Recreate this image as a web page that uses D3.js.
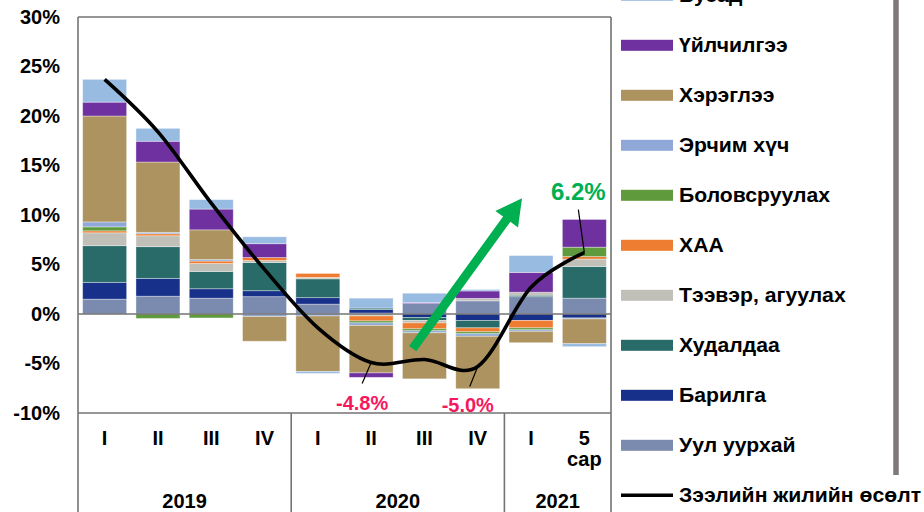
<!DOCTYPE html>
<html>
<head>
<meta charset="utf-8">
<script src="https://cdn.jsdelivr.net/npm/d3@7"></script>
<style>
html,body{margin:0;padding:0;background:#fff;}
svg{display:block;}
text{font-family:"Liberation Sans",Arial,sans-serif;font-weight:bold;}
</style>
</head>
<body>
<svg id="chart" width="924" height="512"></svg>
<script>
// ---------- data ----------
const categories = ["I","II","III","IV","I","II","III","IV","I","5 сар"];
const years = ["2019","2020","2021"];
const yearCounts = [4,4,2];
const yTicks = [-10,-5,0,5,10,15,20,25,30];

// series in stacking order (bottom -> top)
const seriesNames = ["Уул уурхай","Барилга","Худалдаа","Тээвэр, агуулах","ХАА","Боловсруулах","Эрчим хүч","Хэрэглээ","Үйлчилгээ","Бусад"];
const mining       = [1.5, 1.8, 1.6, 1.75, 1.0, 0.1, 1.05, 1.33, 1.75, 1.6];
const construction = [1.7, 1.8, 0.95, 0.6, 0.65, 0.35, -0.35, -0.65, -0.65, -0.4];
const trade        = [3.7, 3.2, 1.75, 2.85, 1.9, 0.15, -0.3, -0.75, 0.15, 3.2];
const transport    = [1.3, 1.1, 0.8, 0.2, 0.15, -0.2, -0.25, 0.25, 0.3, 0.75];
const agriculture  = [0.2, 0.2, 0.25, 0.3, 0.4, -0.5, -0.6, -0.4, -0.75, 0.25];
const manufacturing= [0.4, -0.45, -0.4, 0.0, 0.0, -0.2, -0.2, -0.2, -0.2, 0.95];
const energy       = [0.5, 0.15, 0.15, -0.25, -0.2, -0.25, -0.2, -0.25, -0.15, -0.1];
const consumption  = [10.7, 7.1, 3.0, -2.5, -5.6, -4.8, -4.65, -5.3, -1.15, -2.5];
const services     = [1.4, 2.1, 2.1, 1.4, 0.0, -0.45, 0.1, 0.75, 2.0, 2.8];
const other        = [2.3, 1.3, 0.95, 0.7, -0.2, 1.0, 0.95, 0.15, 1.7, -0.3];
const seriesValues = [mining,construction,trade,transport,agriculture,manufacturing,energy,consumption,services,other];
const seriesColors = ["#7B8BAF","#17308A","#286B69","#C0C0B8","#EE7D31","#5F9A3C","#8FA8D8","#AD935F","#7031A0","#98BBE2"];

const lineName = "Зээлийн жилийн өсөлт";
const growth = [23.7, 18.4, 11.2, 4.5, -1.4, -4.9, -4.6, -5.3, 2.7, 6.2];

// annotations: index of point, label text, colour
const annotations = [
  {i:5, text:"-4.8%", color:"#F5185F", dx:-9, dy:40, lx:-9, ly:21, size:20},
  {i:7, text:"-5.0%", color:"#F5185F", dx:-10, dy:39, lx:-8, ly:20, size:20},
  {i:9, text:"6.2%", color:"#00B050", dx:-6, dy:-61, lx:-6, ly:-43, size:24}
];
// trend arrow in data units (band index, percent)
const arrowFrom = [6.28, -3.5];
const arrowTo = [8.33, 11.7];

// ---------- drawing ----------
const svg = d3.select("#chart");
const L = 78, R = 611, T = 17, B = 413;
const axisColor = "#737373";

const x = d3.scaleBand().domain(d3.range(categories.length)).range([L,R]).paddingInner(0.175).paddingOuter(0.0875);
const xc = i => x(i) + x.bandwidth()/2;
const xCont = v => L + x.step()*v;
const y = d3.scaleLinear().domain([-10,30]).range([B,T]);

// title (cropped at the top of the picture)
svg.append("text").attr("x",250).attr("y",-4).attr("text-anchor","middle")
  .style("font-size","19px").text("салбаруудын оруулсан хувь нэмэр (хувь нэгжээр)");

// stacked bars
const table = categories.map((c,i)=>{const o={i}; seriesNames.forEach((s,k)=>o[s]=seriesValues[k][i]); return o;});
const stack = d3.stack().keys(seriesNames).offset(d3.stackOffsetDiverging)(table);
svg.append("g").selectAll("g").data(stack).join("g")
  .attr("fill",(d,k)=>seriesColors[k])
  .selectAll("rect").data(d=>d).join("rect")
  .attr("x",d=>x(d.data.i)).attr("width",x.bandwidth())
  .attr("y",d=>y(Math.max(d[0],d[1])))
  .attr("height",d=>Math.abs(y(d[0])-y(d[1])))
  .attr("stroke","rgba(255,255,255,0.45)").attr("stroke-width",0.8);

// plot frame and zero line
const frame = svg.append("g").attr("stroke",axisColor).attr("stroke-width",1.6).attr("fill","none");
frame.append("line").attr("x1",L).attr("x2",R).attr("y1",T).attr("y2",T);
frame.append("line").attr("x1",L).attr("x2",L).attr("y1",T).attr("y2",512);
frame.append("line").attr("x1",R).attr("x2",R).attr("y1",T).attr("y2",512);
frame.append("line").attr("x1",L).attr("x2",R).attr("y1",B).attr("y2",B);
frame.append("line").attr("x1",L).attr("x2",R).attr("y1",y(0)).attr("y2",y(0));

// group separators
let acc = 0;
yearCounts.forEach((n,g)=>{
  const start = acc; acc += n;
  if (acc < categories.length) {
    frame.append("line").attr("x1",xCont(acc)).attr("x2",xCont(acc)).attr("y1",B).attr("y2",512);
  }
  svg.append("text").attr("x",(xCont(start)+xCont(acc))/2).attr("y",501).attr("dy","0.35em")
    .attr("text-anchor","middle").style("font-size","20px").text(years[g]);
});

// y axis labels
const yAxis = d3.axisLeft(y).tickValues(yTicks).tickFormat(d=>d+"%").tickSize(0).tickPadding(18);
const yg = svg.append("g").attr("transform",`translate(${L},0)`).call(yAxis);
yg.select(".domain").remove();
yg.selectAll("text").style("font-size","20px").style("font-family","Liberation Sans, Arial, sans-serif").style("font-weight","bold").attr("fill","#000");

// category labels
const cl = svg.append("g").selectAll("text").data(categories).join("text")
  .attr("x",(d,i)=>xc(i)).attr("y",438).attr("dy","0.35em").attr("text-anchor","middle")
  .style("font-size","20px");
cl.each(function(d,i){
  const parts = d.split(" ");
  const t = d3.select(this);
  parts.forEach((p,k)=>t.append("tspan").attr("x",xc(i)).attr("dy",k===0?"0.35em":"1.05em").text(p));
});

// growth line
const line = d3.line().x((d,i)=>xc(i)).y(d=>y(d)).curve(d3.curveCardinal.tension(0));
svg.append("path").datum(growth).attr("d",line).attr("fill","none").attr("stroke","#000").attr("stroke-width",3.6);

// annotations
annotations.forEach(a=>{
  const px = xc(a.i), py = y(growth[a.i]);
  svg.append("line").attr("x1",px+a.lx).attr("y1",py+a.ly).attr("x2",px).attr("y2",py)
    .attr("stroke","#000").attr("stroke-width",1.2);
  svg.append("text").attr("x",px+a.dx).attr("y",py+a.dy).attr("dy","0.35em").attr("text-anchor","middle")
    .attr("fill",a.color).style("font-size",a.size+"px").text(a.text);
});

// green arrow
(function(){
  const x0 = xCont(arrowFrom[0]), y0 = y(arrowFrom[1]);
  const x1 = xCont(arrowTo[0]), y1 = y(arrowTo[1]);
  const dx = x1-x0, dy = y1-y0, len = Math.hypot(dx,dy);
  const ux = dx/len, uy = dy/len, nx = -uy, ny = ux;
  const sw = 4.5, hw = 14, hl = 26;
  const bx = x1 - ux*hl, by = y1 - uy*hl;
  const pts = [
    [x0+nx*sw, y0+ny*sw],[bx+nx*sw, by+ny*sw],[bx+nx*hw, by+ny*hw],[x1,y1],
    [bx-nx*hw, by-ny*hw],[bx-nx*sw, by-ny*sw],[x0-nx*sw, y0-ny*sw]];
  svg.append("polygon").attr("points",pts.map(p=>p.join(",")).join(" ")).attr("fill","#00B050");
})();

// legend
const legendItems = seriesNames.map((n,k)=>({name:n,color:seriesColors[k],type:"bar"})).reverse()
  .concat([{name:lineName,color:"#000",type:"line"}]);
const lg = svg.append("g");
legendItems.forEach((d,k)=>{
  const cy = -4.7 + k*50;
  if (d.type==="bar") {
    lg.append("rect").attr("x",621).attr("y",cy-5.5).attr("width",52).attr("height",11).attr("fill",d.color);
  } else {
    lg.append("line").attr("x1",621).attr("x2",673).attr("y1",cy).attr("y2",cy).attr("stroke","#000").attr("stroke-width",3.6);
  }
  lg.append("text").attr("transform",`translate(679,${cy}) scale(1.06,1)`).attr("dy","0.35em")
    .style("font-size","20px").text(d.name);
});
svg.append("line").attr("x1",896).attr("x2",896).attr("y1",0).attr("y2",475).attr("stroke","#7F7878").attr("stroke-width",5.5);
</script>
</body>
</html>
